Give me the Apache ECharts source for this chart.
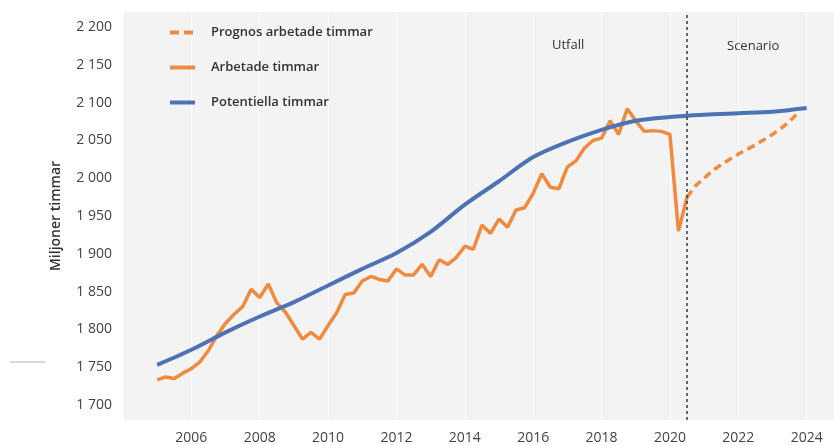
<!DOCTYPE html>
<html>
<head>
<meta charset="utf-8">
<script src="https://cdn.jsdelivr.net/npm/echarts@6/dist/echarts.min.js"></script>
<style>
  html, body { margin: 0; padding: 0; background: #fff; }
  #chart { width: 838px; height: 445px; }
</style>
</head>
<body>
<div id="chart"></div>
<script>
// kvartalsdata, första kvartalet 2005
var arbetadeStart = 2005;
var arbetade = [
  1733, 1737, 1735, 1742,
  1748, 1757, 1772, 1792,
  1808, 1820, 1830, 1853,
  1842, 1860, 1835, 1823,
  1805, 1787, 1796, 1787,
  1805, 1822, 1846, 1848,
  1864, 1870, 1866, 1864,
  1880, 1872, 1872, 1886,
  1870, 1892, 1886, 1895,
  1910, 1906, 1938, 1927,
  1946, 1935, 1958, 1961,
  1980, 2006, 1988, 1986,
  2015, 2023, 2040, 2050,
  2053, 2076, 2058, 2092,
  2076, 2062, 2063, 2062,
  2058, 1930, 1975
];
// prognos, från tredje kvartalet 2020
var prognosStart = 2020.5;
var prognos = [1975, 1990, 2000, 2010, 2018, 2025, 2032, 2038, 2044, 2051, 2058, 2066, 2075, 2087];
// potentiella timmar, årsvärden
var potentiellaAr = [2005, 2006, 2007, 2008, 2009, 2010, 2011, 2012, 2013, 2014, 2015, 2016, 2017, 2018, 2019, 2020, 2021, 2022, 2023, 2024];
var potentiella = [1753, 1773, 1796, 1817, 1836, 1858, 1880, 1901, 1929, 1965, 1996, 2028, 2048, 2064, 2076, 2081, 2084, 2086, 2088, 2093];
var yTicks = [1700, 1750, 1800, 1850, 1900, 1950, 2000, 2050, 2100, 2150, 2200];
var skiljelinje = 2020.5;

var orange = '#ef8a3f';
var blue = '#4e72b6';

function kvartal(start, vals) {
  return vals.map(function (v, i) { return [start + i / 4, v]; });
}
function fmt(v) {
  return String(v).replace(/\B(?=(\d{3})+$)/g, ' ');
}

var chart = echarts.init(document.getElementById('chart'));
chart.setOption({
  animation: false,
  textStyle: { fontFamily: 'Open Sans' },
  grid: {
    left: 123, right: 4, top: 12, bottom: 25,
    show: true, backgroundColor: '#f3f3f3', borderWidth: 0
  },
  legend: {
    orient: 'vertical',
    left: 163, top: 21,
    itemWidth: 25, itemHeight: 14, itemGap: 22,
    itemStyle: { opacity: 0 },
    lineStyle: { width: 4 },
    data: [
      { name: 'Prognos arbetade timmar', lineStyle: { type: [9, 5], width: 4 } },
      { name: 'Arbetade timmar' },
      { name: 'Potentiella timmar' }
    ],
    textStyle: { fontSize: 13, color: '#333', fontWeight: 600, padding: [0, 0, 0, 11] }
  },
  xAxis: {
    type: 'value',
    min: 2004, max: 2024.8, interval: 2,
    axisLine: { show: false },
    axisTick: { show: false },
    axisLabel: {
      fontSize: 14, color: '#444', margin: 11, showMaxLabel: false,
      formatter: function (v) { return v === 2004 ? '' : String(v); }
    },
    splitLine: { show: true, lineStyle: { color: '#ffffff', width: 1, opacity: 0.6 } }
  },
  yAxis: {
    type: 'value',
    min: 1680, max: 2220, interval: 10,
    name: 'Miljoner timmar',
    nameLocation: 'middle',
    nameGap: 60,
    nameTextStyle: { fontSize: 14, fontWeight: 600, color: '#333' },
    axisLine: { show: false },
    axisTick: { show: false },
    splitLine: { show: false },
    axisLabel: {
      fontSize: 14, color: '#444', margin: 11,
      formatter: function (v) { return yTicks.indexOf(v) >= 0 ? fmt(v) : ''; }
    }
  },
  series: [
    {
      name: 'Prognos arbetade timmar',
      type: 'line',
      data: kvartal(prognosStart, prognos),
      symbol: 'none',
      z: 3,
      lineStyle: { color: orange, width: 3.5, type: [8, 5] },
      itemStyle: { color: orange },
      markLine: {
        silent: true,
        symbol: ['none', 'none'],
        label: { show: false },
        lineStyle: { color: '#353b4a', width: 1.5, type: [3, 3] },
        data: [{ xAxis: skiljelinje }]
      }
    },
    {
      name: 'Arbetade timmar',
      type: 'line',
      data: kvartal(arbetadeStart, arbetade),
      symbol: 'none',
      z: 3,
      lineStyle: { color: orange, width: 3.5 },
      itemStyle: { color: orange }
    },
    {
      name: 'Potentiella timmar',
      type: 'line',
      data: potentiellaAr.map(function (y, i) { return [y, potentiella[i]]; }),
      symbol: 'none',
      smooth: 0.3,
      z: 4,
      lineStyle: { color: blue, width: 4 },
      itemStyle: { color: blue }
    }
  ],
  graphic: [
    { type: 'text', left: 552, top: 39, style: { text: 'Utfall', font: '500 13px "Open Sans"', fill: '#333' } },
    { type: 'text', left: 727, top: 40, style: { text: 'Scenario', font: '500 13px "Open Sans"', fill: '#333' } },
    { type: 'line', shape: { x1: 10, y1: 362, x2: 45, y2: 362 }, style: { stroke: '#b0b0b0', lineWidth: 1 } }
  ]
});
</script>
</body>
</html>
